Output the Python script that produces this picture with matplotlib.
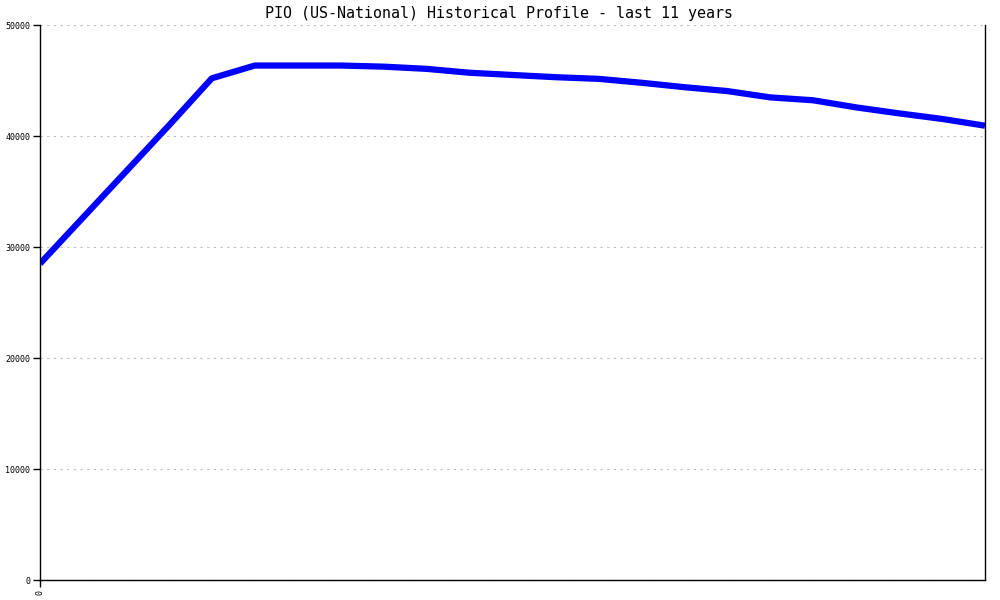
import matplotlib
matplotlib.use("Agg")
import matplotlib.pyplot as plt

# Datos (semestrales, 11 años)
anios = [0, 0.5, 1, 1.5, 2, 2.5, 3, 3.5, 4, 4.5, 5, 5.5, 6, 6.5, 7, 7.5,
         8, 8.5, 9, 9.5, 10, 10.5, 11]
valores = [28500, 32650, 36800, 40950, 45200, 46350, 46350, 46350, 46250,
           46050, 45700, 45500, 45300, 45150, 44800, 44400, 44050, 43480,
           43220, 42580, 42040, 41540, 40930]
y_ticks = [0, 10000, 20000, 30000, 40000, 50000]
titulo = "PIO (US-National) Historical Profile - last 11 years"

plt.rcParams['font.family'] = ['DejaVu Sans Mono', 'Liberation Mono']

fig = plt.figure(figsize=(10, 6), dpi=100)
ax = fig.add_axes([0.040, 0.0333, 0.945, 0.925])

ax.plot(anios, valores, color='#0000ff', linewidth=4.5, solid_capstyle='butt')

ax.set_xlim(0, 11)
ax.set_ylim(0, 50000)
ax.set_yticks(y_ticks)
ax.set_yticklabels([str(v) for v in y_ticks], fontsize=6)
ax.set_xticks([0])
ax.set_xticklabels(["0"], fontsize=6, rotation=90)
ax.tick_params(axis='both', direction='out', length=5, width=1, pad=2)

ax.grid(True, axis='y', linestyle=(0, (2, 4)), color='#bbbbbb', linewidth=0.8)
ax.set_axisbelow(True)

for lado in ['left', 'bottom', 'right']:
    ax.spines[lado].set_color('black')
    ax.spines[lado].set_linewidth(1)
ax.spines['top'].set_visible(False)

fig.text(0.499, 0.978, titulo, ha='center', va='center', fontsize=10.8)

plt.savefig("out.png", dpi=100)
